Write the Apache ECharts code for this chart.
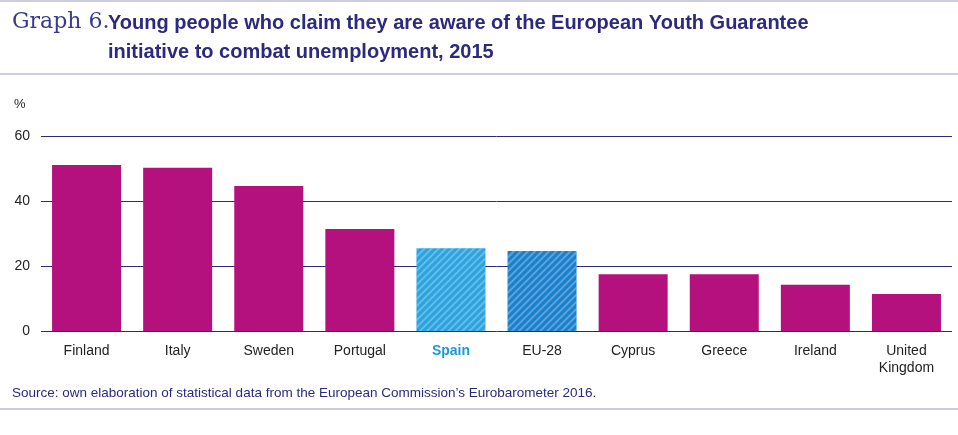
<!DOCTYPE html>
<html><head><meta charset="utf-8">
<script src="https://cdn.jsdelivr.net/npm/echarts@6/dist/echarts.min.js"></script>
<style>html,body{margin:0;background:#fff}#c{width:958px;height:435px}</style>
</head><body><div id="c"></div>
<script>
const categories = ['Finland', 'Italy', 'Sweden', 'Portugal', 'Spain', 'EU-28', 'Cyprus', 'Greece', 'Ireland', 'United\nKingdom'];
const values = [51.1, 50.2, 44.6, 31.4, 25.5, 24.6, 17.5, 17.5, 14.2, 11.4];
const yTicks = [0, 20, 40, 60];

const magenta = '#b5117e';
const stripes = { symbol: 'rect', dashArrayX: [1, 0], dashArrayY: [2, 3], rotation: -Math.PI / 4, color: 'rgba(255,255,255,0.28)' };

const chart = echarts.init(document.getElementById('c'));
const rule = y => ({ type: 'line', shape: { x1: 0, y1: y, x2: 958, y2: y }, style: { stroke: '#9a9ac4', lineWidth: 1 } });

chart.setOption({
    animation: false,
    grid: { left: 41, right: 6, top: 136, bottom: 104 },
    graphic: [
        rule(1), rule(74), rule(409),
        { type: 'text', left: 12, top: 11, style: { text: 'Graph 6.', font: '22px "DejaVu Serif", serif', fill: '#3b3b8c' } },
        { type: 'text', left: 108, top: 9, style: { text: 'Young people who claim they are aware of the European Youth Guarantee\ninitiative to combat unemployment, 2015', font: 'bold 20px "Liberation Sans", Arial', fill: '#2b2a7e', lineHeight: 29 } },
        { type: 'text', left: 14, top: 98, style: { text: '%', font: '13px "Liberation Sans", Arial', fill: '#222' } },
        { type: 'text', left: 12, top: 386, style: { text: 'Source: own elaboration of statistical data from the European Commission\u2019s Eurobarometer 2016.', font: '13.5px "Liberation Sans", Arial', fill: '#2b2a7e' } }
    ],
    xAxis: {
        type: 'category', data: categories,
        axisLine: { show: false }, axisTick: { show: false },
        axisLabel: {
            margin: 12, fontSize: 14, color: '#222', fontFamily: 'Liberation Sans, Arial', lineHeight: 17,
            formatter: v => v === 'Spain' ? '{s|Spain}' : v,
            rich: { s: { color: '#1a9ad8', fontWeight: 'bold', fontSize: 14, fontFamily: 'Liberation Sans, Arial' } }
        }
    },
    yAxis: {
        type: 'value', min: yTicks[0], max: yTicks[yTicks.length - 1], interval: 20,
        axisLabel: { fontSize: 14, color: '#222', margin: 11, fontFamily: 'Liberation Sans, Arial', padding: [0, 0, 10, 0] },
        splitLine: { lineStyle: { color: '#2b2a7e', width: 1 } }
    },
    series: [{
        type: 'bar', barWidth: 69,
        data: values.map((v, i) => {
            const c = categories[i];
            if (c === 'Spain') return { value: v, itemStyle: { color: '#2aa3de', decal: stripes } };
            if (c === 'EU-28') return { value: v, itemStyle: { color: '#1b80cc', decal: stripes } };
            return { value: v, itemStyle: { color: magenta } };
        })
    }]
});
</script></body></html>
